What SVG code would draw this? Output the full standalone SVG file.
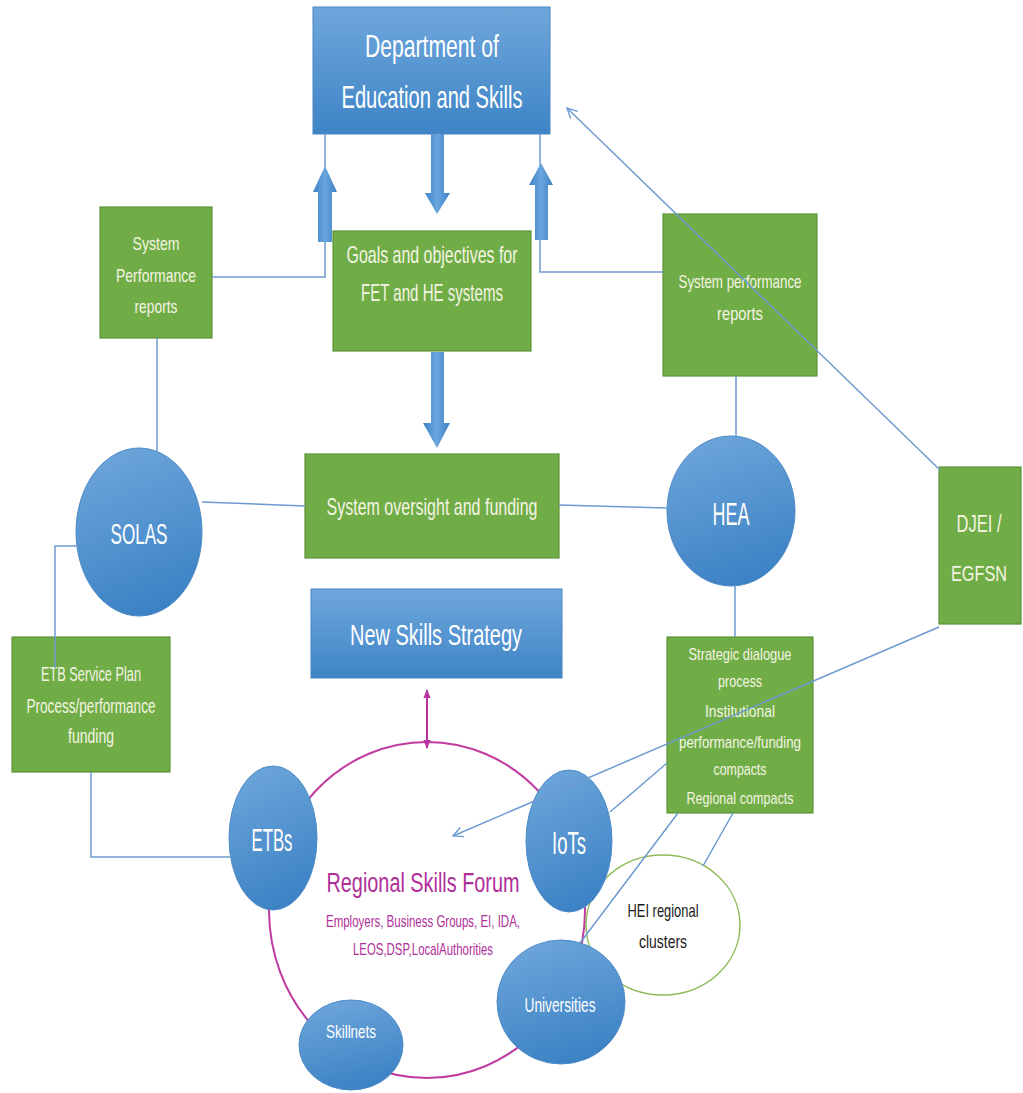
<svg xmlns="http://www.w3.org/2000/svg" width="1023" height="1093" viewBox="0 0 1023 1093">
<defs>
<linearGradient id="gBlue" x1="0" y1="0" x2="0" y2="1">
<stop offset="0" stop-color="#6fa7dc"/><stop offset="1" stop-color="#3e84c6"/>
</linearGradient>
<linearGradient id="gCirc" x1="0.3" y1="0" x2="0.6" y2="1">
<stop offset="0" stop-color="#6ca5da"/><stop offset="1" stop-color="#3b81c4"/>
</linearGradient>
<linearGradient id="gArrow" x1="0" y1="0" x2="1" y2="0">
<stop offset="0" stop-color="#3d82c6"/><stop offset="0.5" stop-color="#6aa6de"/><stop offset="1" stop-color="#3a7fc3"/>
</linearGradient>
<marker id="open" viewBox="0 0 12 12" refX="11" refY="6" markerWidth="12" markerHeight="12" markerUnits="userSpaceOnUse" orient="auto">
<path d="M1,1 L11,6 L1,11" fill="none" stroke="#6d9bd1" stroke-width="1.4"/>
</marker>
<marker id="mag" viewBox="0 0 10 10" refX="9" refY="5" markerWidth="9" markerHeight="9" markerUnits="userSpaceOnUse" orient="auto-start-reverse">
<path d="M0,1 L10,5 L0,9 Z" fill="#b8329c"/>
</marker>
<style>
.box{fill:#70ad47;stroke:#5e9239;stroke-width:1.2}
.bbox{fill:url(#gBlue);stroke:#4a86c0;stroke-width:1}
.circ{fill:url(#gCirc);stroke:#4d8bc7;stroke-width:1}
text{font-family:"Liberation Sans",Arial,sans-serif;text-anchor:middle}
.wt{fill:#ffffff}
.gt{fill:#f4f4e2}
.ln{fill:none;stroke:#6d9bd1;stroke-width:1.5}
.thick{fill:url(#gArrow)}
.mt{fill:#b0309a}
</style>
</defs>
<rect width="1023" height="1093" fill="#ffffff"/>

<g id="rsf">
<ellipse cx="427" cy="910" rx="158" ry="168" fill="none" stroke="#c03aa0" stroke-width="2"/>
<text class="mt" x="423" y="892" font-size="27" textLength="193" lengthAdjust="spacingAndGlyphs">Regional Skills Forum</text>
<text class="mt" x="423" y="927" font-size="16" textLength="194" lengthAdjust="spacingAndGlyphs">Employers, Business Groups, EI, IDA,</text>
<text class="mt" x="423" y="955" font-size="17" textLength="140" lengthAdjust="spacingAndGlyphs">LEOS,DSP,LocalAuthorities</text>
</g>

<g id="dept">
<rect class="bbox" x="313" y="7" width="237" height="127"/>
<text class="wt" x="432" y="57" font-size="32" textLength="134" lengthAdjust="spacingAndGlyphs">Department of</text>
<text class="wt" x="432" y="108" font-size="32" textLength="181" lengthAdjust="spacingAndGlyphs">Education and Skills</text>
</g>

<g id="goals">
<rect class="box" x="333" y="231" width="198" height="120"/>
<text class="gt" x="432" y="263" font-size="24" textLength="171" lengthAdjust="spacingAndGlyphs">Goals and objectives for</text>
<text class="gt" x="432" y="301" font-size="24" textLength="142" lengthAdjust="spacingAndGlyphs">FET and HE systems</text>
</g>

<g id="spr-left">
<rect class="box" x="100" y="207" width="112" height="131"/>
<text class="gt" x="156" y="250" font-size="19" textLength="47" lengthAdjust="spacingAndGlyphs">System</text>
<text class="gt" x="156" y="282" font-size="19" textLength="80" lengthAdjust="spacingAndGlyphs">Performance</text>
<text class="gt" x="156" y="313" font-size="19" textLength="43" lengthAdjust="spacingAndGlyphs">reports</text>
</g>

<g id="spr-right">
<rect class="box" x="663" y="214" width="154" height="162"/>
<text class="gt" x="740" y="288" font-size="19" textLength="123" lengthAdjust="spacingAndGlyphs">System performance</text>
<text class="gt" x="740" y="320" font-size="19" textLength="46" lengthAdjust="spacingAndGlyphs">reports</text>
</g>

<g id="oversight">
<rect class="box" x="305" y="454" width="254" height="104"/>
<text class="gt" x="432" y="515" font-size="24" textLength="211" lengthAdjust="spacingAndGlyphs">System oversight and funding</text>
</g>

<g id="nss">
<rect class="bbox" x="311" y="589" width="251" height="89"/>
<text class="wt" x="436" y="645" font-size="30" textLength="172" lengthAdjust="spacingAndGlyphs">New Skills Strategy</text>
</g>

<g id="solas">
<ellipse class="circ" cx="139" cy="532" rx="63" ry="84"/>
<text class="wt" x="139" y="544" font-size="30" textLength="57" lengthAdjust="spacingAndGlyphs">SOLAS</text>
</g>

<g id="hea">
<ellipse class="circ" cx="731" cy="511" rx="64" ry="75"/>
<text class="wt" x="731" y="525" font-size="31" textLength="37" lengthAdjust="spacingAndGlyphs">HEA</text>
</g>

<g id="djei">
<rect class="box" x="939" y="467" width="82" height="157"/>
<text class="gt" x="979" y="532" font-size="23" textLength="45" lengthAdjust="spacingAndGlyphs">DJEI /</text>
<text class="gt" x="979" y="581" font-size="22" textLength="56" lengthAdjust="spacingAndGlyphs">EGFSN</text>
</g>

<g id="etb-plan">
<rect class="box" x="12" y="637" width="158" height="135"/>
<text class="gt" x="91" y="681" font-size="20" textLength="100" lengthAdjust="spacingAndGlyphs">ETB Service Plan</text>
<text class="gt" x="91" y="713" font-size="20" textLength="129" lengthAdjust="spacingAndGlyphs">Process/performance</text>
<text class="gt" x="91" y="743" font-size="20" textLength="46" lengthAdjust="spacingAndGlyphs">funding</text>
</g>

<g id="strategic">
<rect class="box" x="667" y="637" width="146" height="176"/>
<text class="gt" x="740" y="660" font-size="17" textLength="103" lengthAdjust="spacingAndGlyphs">Strategic dialogue</text>
<text class="gt" x="740" y="687" font-size="17" textLength="44" lengthAdjust="spacingAndGlyphs">process</text>
<text class="gt" x="740" y="717" font-size="17" textLength="70" lengthAdjust="spacingAndGlyphs">Institutional</text>
<text class="gt" x="740" y="748" font-size="17" textLength="122" lengthAdjust="spacingAndGlyphs">performance/funding</text>
<text class="gt" x="740" y="775" font-size="17" textLength="53" lengthAdjust="spacingAndGlyphs">compacts</text>
<text class="gt" x="740" y="804" font-size="17" textLength="107" lengthAdjust="spacingAndGlyphs">Regional compacts</text>
</g>

<g id="hei">
<ellipse cx="663" cy="925" rx="77" ry="70" fill="#ffffff" stroke="#8fbc5a" stroke-width="1.5"/>
<text x="663" y="917" font-size="19" fill="#1a1a1a" textLength="71" lengthAdjust="spacingAndGlyphs">HEI regional</text>
<text x="663" y="948" font-size="19" fill="#1a1a1a" textLength="48" lengthAdjust="spacingAndGlyphs">clusters</text>
</g>

<g id="etbs">
<ellipse class="circ" cx="273" cy="838" rx="44" ry="72"/>
<text class="wt" x="272" y="851" font-size="31" textLength="41" lengthAdjust="spacingAndGlyphs">ETBs</text>
</g>

<g id="iots">
<ellipse class="circ" cx="569" cy="841" rx="43" ry="71"/>
<text class="wt" x="569" y="854" font-size="31" textLength="34" lengthAdjust="spacingAndGlyphs">IoTs</text>
</g>

<g id="universities">
<ellipse class="circ" cx="561" cy="1002" rx="64" ry="62"/>
<text class="wt" x="560" y="1012" font-size="21" textLength="71" lengthAdjust="spacingAndGlyphs">Universities</text>
</g>

<g id="skillnets">
<ellipse class="circ" cx="351" cy="1045" rx="52" ry="45"/>
<text class="wt" x="351" y="1038" font-size="19" textLength="50" lengthAdjust="spacingAndGlyphs">Skillnets</text>
</g>

<g id="connectors">
<polyline class="ln" points="325,134 325,277 212,277"/>
<polyline class="ln" points="540,134 540,272 663,272"/>
<line class="ln" x1="157" y1="338" x2="157" y2="451"/>
<line class="ln" x1="202" y1="502" x2="305" y2="506"/>
<line class="ln" x1="559" y1="505" x2="667" y2="508"/>
<line class="ln" x1="736" y1="376" x2="736" y2="436"/>
<line class="ln" x1="735" y1="586" x2="735" y2="637"/>
<polyline class="ln" points="78,546 55,546 55,668"/>
<polyline class="ln" points="91,772 91,857 230,857"/>
<line class="ln" x1="940" y1="470" x2="567" y2="108" marker-end="url(#open)"/>
<line class="ln" x1="939" y1="627" x2="453" y2="836" marker-end="url(#open)"/>
<line class="ln" x1="610" y1="812" x2="667" y2="763"/>
<line class="ln" x1="678" y1="813" x2="580" y2="943"/>
<line class="ln" x1="733" y1="813" x2="703" y2="866"/>
<line x1="427" y1="748" x2="427" y2="690" stroke="#b8329c" stroke-width="2" marker-end="url(#mag)" marker-start="url(#mag)"/>
<polygon class="thick" points="431,134 444,134 444,193 450,193 437,214 425,193 431,193"/>
<polygon class="thick" points="431,352 444,352 444,423 450,423 437,448 423,423 431,423"/>
<polygon class="thick" points="318,242 332,242 332,192 337,192 325,166 313,192 318,192"/>
<polygon class="thick" points="535,240 548,240 548,185 553,185 541,163 529,185 535,185"/>
</g>
</svg>
